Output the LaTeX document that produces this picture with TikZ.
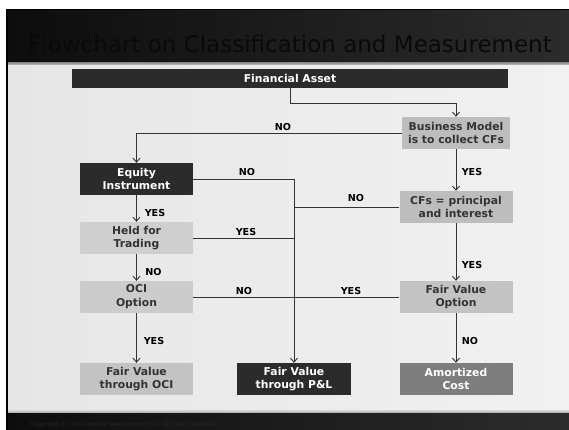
\documentclass[tikz,border=0pt]{standalone}
\usepackage{fontspec}
\setmainfont{DejaVu Sans}
\usetikzlibrary{arrows.meta}

\definecolor{bandL}{HTML}{0D0D0D}
\definecolor{bandR}{HTML}{2C2C2C}
\definecolor{titlecol}{HTML}{0A0A0A}
\definecolor{panelL}{HTML}{E6E6E6}
\definecolor{panelR}{HTML}{F1F1F1}
\definecolor{boxdark}{HTML}{2B2B2B}
\definecolor{boxmid}{HTML}{7D7D7D}
\definecolor{boxtext}{HTML}{333333}
\definecolor{linecol}{HTML}{333333}
\definecolor{footcol}{HTML}{262626}

\begin{document}
\begin{tikzpicture}[x=1pt,y=-1pt,
  box/.style={minimum width=113pt, minimum height=32pt, inner sep=0pt,
    align=center, font=\fontsize{10.8}{13.8}\selectfont\bfseries, text=boxtext},
  darkbox/.style={box, fill=boxdark, text=white},
  greybox/.style={box, fill=#1},
  link/.style={draw=linecol, line width=0.9pt},
  arr/.style={link, -{Straight Barb[length=4pt,width=7pt]}},
  lbl/.style={font=\fontsize{9.6}{11}\selectfont\bfseries, text=black, inner sep=0pt}
]
\useasboundingbox (0,0) rectangle (569,430);

% slide frame, header band, content panel and footer
\fill[white] (0,0) rectangle (569,430);
\fill[black] (6,9) rectangle (569,430);
\shade[left color=bandL, right color=bandR] (8,11) rectangle (569,63);
\shade[top color=gray!80, bottom color=gray!30] (8,63) rectangle (569,66);
\shade[left color=panelL, right color=panelR] (8,66) rectangle (569,410);
\shade[top color=gray!30, bottom color=gray!70] (8,410) rectangle (569,413);
\shade[left color=bandL, right color=bandR] (8,413) rectangle (569,430);

\node[anchor=base west, inner sep=0pt, font=\fontsize{23}{27}\selectfont, text=titlecol]
  (title) at (28,53) {Flowchart on Classification and Measurement};
\node[anchor=base west, inner sep=0pt, font=\fontsize{5.8}{7}\selectfont, text=footcol]
  (copy) at (30,426) {Copyright © 2010 Deloitte Development LLC. All rights reserved.};

% decision and outcome boxes
\node[darkbox, minimum width=436pt, minimum height=19pt] (fa) at (290,78.5) {Financial Asset};
\node[greybox={gray!52}, minimum width=108pt] (bm) at (456,133) {Business Model\\is to collect CFs};
\node[darkbox] (eq) at (136.5,179) {Equity\\Instrument};
\node[greybox={gray!52}] (cf) at (456,207) {CFs = principal\\and interest};
\node[greybox={gray!38}] (ht) at (136.5,238) {Held for\\Trading};
\node[greybox={gray!40}] (oci) at (136.5,297) {OCI\\Option};
\node[greybox={gray!47}] (fvo) at (456,297) {Fair Value\\Option};
\node[greybox={gray!47}] (fvoci) at (136.5,379) {Fair Value\\through OCI};
\node[darkbox, minimum width=114pt] (fvpl) at (294,379) {Fair Value\\through P\&L};
\node[box, fill=boxmid, text=white] (ac) at (456,379) {Amortized\\Cost};

% connectors
\draw[arr] (fa.south) -- ++(0,15) -| (bm.north);
\draw[arr] (bm.west) -| (eq.north);
\draw[arr] (bm.south) -- (cf.north);
\draw[arr] (eq.south) -- (ht.north);
\draw[arr] (ht.south) -- (oci.north);
\draw[arr] (oci.south) -- (fvoci.north);
\draw[arr] (eq.east) -| (fvpl.north);
\draw[link] (ht.east) -- (ht.east -| fvpl.north);
\draw[link] (cf.west) -- (cf.west -| fvpl.north);
\draw[link] (fvo.west) -- (oci.east);
\draw[arr] (cf.south) -- (fvo.north);
\draw[arr] (fvo.south) -- (ac.north);

% branch labels
\node[lbl] (l1) at (283,127) {NO};
\node[lbl] (l2) at (472,172) {YES};
\node[lbl] (l3) at (247,172) {NO};
\node[lbl] (l4) at (155,213) {YES};
\node[lbl] (l5) at (246,232) {YES};
\node[lbl] (l6) at (356,198) {NO};
\node[lbl] (l7) at (472,265) {YES};
\node[lbl] (l8) at (153.5,272) {NO};
\node[lbl] (l9) at (244,291) {NO};
\node[lbl] (l10) at (351,291) {YES};
\node[lbl] (l11) at (154,341) {YES};
\node[lbl] (l12) at (470,341) {NO};
\end{tikzpicture}
\end{document}
